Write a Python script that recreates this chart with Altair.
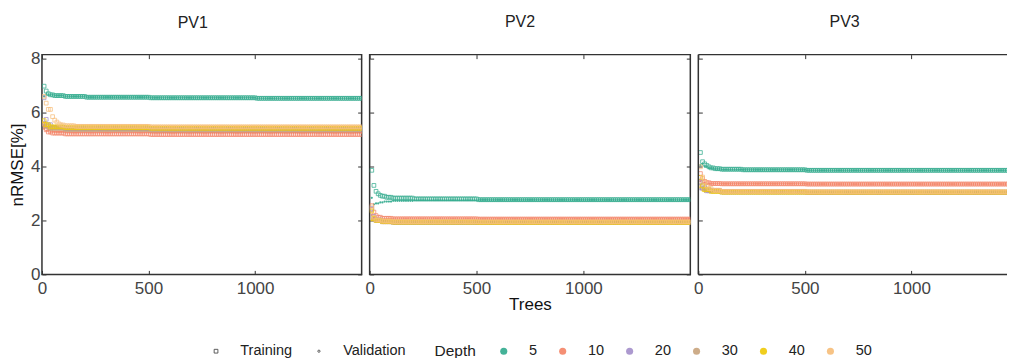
import altair as alt
import pandas as pd

FONT = "Liberation Sans"

panels = ["PV1", "PV2", "PV3"]
depths = ["5", "10", "20", "30", "40", "50"]
depth_colors = ["#3aae92", "#f4896d", "#a894cc", "#caa883", "#efcb12", "#f7c07e"]
sets = ["Training", "Validation"]
tree_counts = list(range(10, 1501, 10))  # 150 ensemble sizes
x_ticks = [0, 500, 1000]
y_ticks = [0, 2, 4, 6, 8]

# nRMSE values, run-length encoded as (value, number of points)
pv1_training = {
    "5":  [(6.98, 1), (6.80, 1), (6.70, 1), (6.66, 2), (6.63, 5), (6.60, 10), (6.57, 30), (6.55, 50), (6.53, 50)],
    "10": [(5.57, 1), (5.36, 1), (5.28, 2), (5.24, 6), (5.21, 40), (5.19, 100)],
    "20": [(6.55, 1), (5.75, 1), (5.55, 2), (5.45, 6), (5.40, 40), (5.38, 100)],
    "30": [(5.60, 1), (5.50, 2), (5.42, 7), (5.38, 40), (5.36, 100)],
    "40": [(5.70, 1), (5.55, 2), (5.47, 7), (5.44, 40), (5.42, 100)],
    "50": [(6.60, 1), (6.35, 1), (6.12, 2), (5.85, 1), (5.72, 1), (5.65, 1), (5.58, 1), (5.54, 2), (5.51, 5), (5.49, 35), (5.47, 100)],
}
pv1_validation = {
    "5":  [(6.60, 1), (6.68, 1), (6.66, 3), (6.63, 5), (6.60, 10), (6.57, 30), (6.55, 50), (6.53, 50)],
    "10": [(5.40, 1), (5.33, 2), (5.28, 7), (5.26, 40), (5.25, 100)],
    "20": [(5.55, 1), (5.45, 3), (5.40, 6), (5.38, 140)],
    "30": [(5.45, 2), (5.38, 8), (5.35, 140)],
    "40": [(5.50, 2), (5.44, 8), (5.42, 140)],
    "50": [(5.60, 1), (5.52, 3), (5.48, 146)],
}
pv2_training = {
    "5":  [(3.86, 1), (3.30, 1), (3.08, 1), (2.99, 1), (2.93, 1), (2.90, 2), (2.86, 3), (2.83, 10), (2.80, 30), (2.77, 100)],
    "10": [(2.55, 1), (2.31, 1), (2.18, 1), (2.12, 2), (2.08, 5), (2.06, 40), (2.05, 100)],
    "20": [(2.45, 1), (2.15, 1), (2.02, 3), (1.96, 5), (1.94, 40), (1.93, 100)],
    "30": [(2.40, 1), (2.10, 1), (2.00, 3), (1.95, 5), (1.93, 40), (1.92, 100)],
    "40": [(2.35, 1), (2.08, 1), (2.00, 3), (1.96, 5), (1.94, 40), (1.93, 100)],
    "50": [(2.50, 1), (2.12, 1), (2.02, 3), (1.98, 5), (1.96, 40), (1.95, 100)],
}
pv2_validation = {
    "5":  [(2.84, 1), (2.60, 1), (2.63, 2), (2.67, 2), (2.70, 4), (2.73, 10), (2.75, 30), (2.76, 100)],
    "10": [(2.20, 1), (2.10, 2), (2.06, 7), (2.05, 140)],
    "20": [(2.00, 2), (1.95, 8), (1.93, 140)],
    "30": [(2.02, 2), (1.95, 8), (1.92, 140)],
    "40": [(2.00, 2), (1.95, 8), (1.93, 140)],
    "50": [(2.05, 2), (1.98, 8), (1.95, 140)],
}
pv3_training = {
    "5":  [(4.52, 1), (4.18, 1), (4.10, 1), (4.04, 1), (3.99, 1), (3.95, 2), (3.92, 3), (3.90, 10), (3.88, 30), (3.86, 100)],
    "10": [(3.74, 1), (3.55, 1), (3.45, 1), (3.40, 2), (3.37, 5), (3.36, 40), (3.35, 100)],
    "20": [(3.40, 1), (3.20, 2), (3.10, 7), (3.06, 40), (3.05, 100)],
    "30": [(3.45, 1), (3.30, 1), (3.24, 1), (3.15, 2), (3.10, 5), (3.06, 40), (3.04, 100)],
    "40": [(3.60, 1), (3.28, 1), (3.15, 3), (3.08, 5), (3.05, 140)],
    "50": [(3.99, 1), (3.61, 1), (3.43, 1), (3.28, 1), (3.18, 2), (3.12, 4), (3.08, 40), (3.06, 100)],
}
pv3_validation = {
    "5":  [(4.05, 1), (4.10, 1), (4.00, 2), (3.94, 3), (3.91, 3), (3.89, 10), (3.88, 30), (3.86, 100)],
    "10": [(3.45, 1), (3.40, 2), (3.37, 7), (3.36, 40), (3.35, 100)],
    "20": [(3.15, 2), (3.08, 8), (3.05, 140)],
    "30": [(3.20, 2), (3.10, 8), (3.04, 140)],
    "40": [(3.24, 1), (3.11, 1), (3.07, 3), (3.05, 145)],
    "50": [(3.30, 1), (3.15, 2), (3.08, 7), (3.06, 140)],
}

series = {
    ("PV1", "Training"): pv1_training, ("PV1", "Validation"): pv1_validation,
    ("PV2", "Training"): pv2_training, ("PV2", "Validation"): pv2_validation,
    ("PV3", "Training"): pv3_training, ("PV3", "Validation"): pv3_validation,
}

rows = []
for (panel, s), table in series.items():
    for depth in depths:
        values = [v for v, n in table[depth] for _ in range(n)]
        for t, v in zip(tree_counts, values):
            rows.append({"panel": panel, "set": s, "depth": depth, "trees": t, "value": v})
df = pd.DataFrame(rows)

y_scale = alt.Scale(domain=[0, 8.15], nice=False)
color_scale = alt.Scale(domain=depths, range=depth_colors)
shape_scale = alt.Scale(domain=sets, range=["square", "circle"])
size_scale = alt.Scale(domain=sets, range=[14, 5])

PAD_TOP = 12.5
PAD_LEFT = 7
LEGEND_Y = 289.5
# legend positions relative to the first panel's plot origin
shape_legend = alt.Legend(
    title="", orient="none", direction="horizontal", legendX=167, legendY=LEGEND_Y,
    labelFontSize=14.5, labelFont=FONT, labelColor="#222", labelOffset=17,
    columnPadding=19, symbolStrokeColor="#444", symbolFillColor="white",
    symbolStrokeWidth=0.9, padding=0,
)
color_legend = alt.Legend(
    title="Depth", orient="none", direction="horizontal", legendX=393, legendY=LEGEND_Y,
    titleOrient="left", titleFontSize=15.5, titleFont=FONT, titleFontWeight="normal",
    titleColor="#222", titlePadding=20, labelFontSize=14.5, labelFont=FONT,
    labelColor="#222", labelOffset=18, columnPadding=18, symbolType="circle",
    symbolSize=50, symbolStrokeWidth=0, symbolFillColor="#888", padding=0,
)

# panel geometry: (width, x-domain max, title dx, title offset)
geometry = {
    "PV1": (320, 1500, -9, 18.7),
    "PV2": (321, 1500, -10, 23.7),
    "PV3": (309, 1448, -8, 23.7),
}

tick_axis = dict(
    grid=False, domain=False, tickSize=4, tickColor="#333", offset=-4,
    labels=False, title="", minExtent=0, maxExtent=0,
)


def make_panel(panel, first, middle, last):
    width, xmax, tdx, toff = geometry[panel]
    d = df[df["panel"] == panel]
    x_scale = alt.Scale(domain=[0, xmax], nice=False, zero=False)
    x_axis = alt.Axis(
        values=x_ticks, format="d", grid=False, domain=False, tickSize=4, tickColor="#333",
        offset=-4, labelPadding=6, labelFontSize=17, labelFont=FONT,
        labelColor="#444", labelFlush=False, title=("Trees" if middle else ""),
        titleFontSize=17, titleFont=FONT, titleFontWeight="normal",
        titleColor="#111", titlePadding=0, minExtent=0,
    )
    if first:
        y_axis = alt.Axis(
            values=y_ticks, grid=False, domain=False, tickSize=4, tickColor="#333",
            offset=-4, labelPadding=2, labelFontSize=17, labelFont=FONT,
            labelColor="#444", labelFlush=False, title="nRMSE[%]",
            titleFontSize=17, titleFont=FONT, titleFontWeight="normal",
            titleColor="#111", titlePadding=4, minExtent=0,
        )
    else:
        y_axis = alt.Axis(values=y_ticks, **tick_axis)
    # inside ticks on the top (and right) border, as in a boxed plot
    x_axis_top = alt.Axis(values=x_ticks, orient="top", **tick_axis)
    y_axis_right = alt.Axis(values=y_ticks, orient="right", **tick_axis)

    base = alt.Chart(d)
    common = dict(
        color=alt.Color("depth:N", scale=color_scale, legend=color_legend, sort=depths),
        shape=alt.Shape("set:N", scale=shape_scale, legend=shape_legend),
        size=alt.Size("set:N", scale=size_scale, legend=shape_legend),
    )
    valid_y = alt.Y("value:Q", scale=y_scale, axis=y_axis_right) if not last else \
        alt.Y("value:Q", scale=y_scale, axis=None)
    valid = base.transform_filter(alt.datum.set == "Validation").mark_point(
        filled=True, opacity=0.95, clip=True
    ).encode(
        x=alt.X("trees:Q", scale=x_scale, axis=x_axis_top),
        y=valid_y,
        **common,
    )
    train = base.transform_filter(alt.datum.set == "Training").mark_point(
        filled=False, strokeWidth=0.8, opacity=0.95, clip=True
    ).encode(
        x=alt.X("trees:Q", scale=x_scale, axis=x_axis),
        y=alt.Y("value:Q", scale=y_scale, axis=y_axis),
        **common,
    )
    layers = [valid, train]
    props = dict(
        width=width, height=220,
        title=alt.TitleParams(
            panel, fontSize=16, font=FONT, fontWeight="normal", color="#222",
            frame="group", anchor="middle", dx=tdx, offset=toff,
        ),
    )
    if last:
        # the right side of this panel is cut off by the picture edge: frame on three sides only
        edge = pd.DataFrame({"edge": ["frame"]})
        frame_style = dict(color="#333", strokeWidth=1.5)
        top = alt.Chart(edge).mark_rule(**frame_style).encode(
            x=alt.value(0), x2=alt.value(width), y=alt.value(0))
        bottom = alt.Chart(edge).mark_rule(**frame_style).encode(
            x=alt.value(0), x2=alt.value(width), y=alt.value(220))
        left = alt.Chart(edge).mark_rule(**frame_style).encode(
            x=alt.value(0), y=alt.value(0), y2=alt.value(220))
        layers += [top, bottom, left]
        props["view"] = alt.ViewBackground(stroke="transparent")
    return alt.layer(*layers).resolve_axis(x="independent", y="independent").properties(**props)


chart = alt.hconcat(
    make_panel("PV1", True, False, False),
    make_panel("PV2", False, True, False),
    make_panel("PV3", False, False, True),
    spacing=8, bounds="flush",
).resolve_scale(
    color="shared", shape="shared", size="shared"
).configure_view(
    stroke="#333", strokeWidth=1.5
).properties(
    padding={"left": PAD_LEFT, "top": PAD_TOP, "right": 0, "bottom": 0},
    background="white",
)

chart.save("out.html", embed_options={"renderer": "svg", "actions": False})
